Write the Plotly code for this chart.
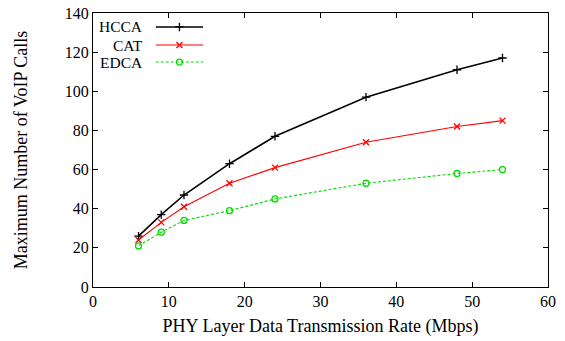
import plotly.graph_objects as go

rates = [6, 9, 12, 18, 24, 36, 48, 54]
hcca = [26, 37, 47, 63, 77, 97, 111, 117]
cat = [24, 33, 41, 53, 61, 74, 82, 85]
edca = [21, 28, 34, 39, 45, 53, 58, 60]

series = [
    ("HCCA", hcca, "black", "solid", "cross-thin-open", 6, 1.6),
    ("CAT", cat, "#ff0000", "solid", "x-thin-open", 6, 1.1),
    ("EDCA", edca, "#00dd00", "3px,2px", "circle-open", 6, 1.1),
]

fig = go.Figure()
for name, ys, col, dash, sym, ms, lw in series:
    fig.add_trace(go.Scatter(
        x=rates, y=ys, mode="lines+markers", name=name,
        line=dict(color=col, width=lw, dash=dash),
        marker=dict(symbol=sym, size=ms, color=col, line=dict(color=col, width=1.3)),
        showlegend=False))

# custom legend (text left of sample)
leg_y = [0.949, 0.883, 0.821]
for (name, ys, col, dash, sym, ms, lw), ly in zip(series, leg_y):
    fig.add_trace(go.Scatter(
        x=[0.138, 0.190, 0.242], y=[ly, ly, ly], xaxis="x2", yaxis="y2",
        mode="lines", line=dict(color=col, width=lw, dash=dash),
        showlegend=False, hoverinfo="skip"))
    fig.add_trace(go.Scatter(
        x=[0.190], y=[ly], xaxis="x2", yaxis="y2", mode="markers",
        marker=dict(symbol=sym, size=ms, color=col, line=dict(color=col, width=1.3)),
        showlegend=False, hoverinfo="skip"))
    fig.add_annotation(x=0.112, y=ly, xref="paper", yref="paper", text=name,
                       showarrow=False, xanchor="right", yanchor="middle",
                       borderpad=0, font=dict(size=15.5, color="black"))

font = "Liberation Serif, Times New Roman, serif"
axcommon = dict(showgrid=False, zeroline=False, showline=True, linecolor="black",
                linewidth=1, mirror="ticks", ticks="inside", ticklen=5,
                tickcolor="black", tickfont=dict(size=16, color="black"))
fig.update_layout(
    width=565, height=341,
    margin=dict(l=93, r=17, t=13, b=54, autoexpand=False),
    paper_bgcolor="white", plot_bgcolor="white",
    font=dict(family=font, color="black", size=16),
    xaxis=dict(range=[0, 60], dtick=10,
               title=dict(text="PHY Layer Data Transmission Rate (Mbps)", font=dict(size=18), standoff=10),
               **axcommon),
    yaxis=dict(range=[0, 140], dtick=20,
               title=dict(text="Maximum Number of VoIP Calls", font=dict(size=18), standoff=32),
               **axcommon),
    xaxis2=dict(overlaying="x", range=[0, 1], visible=False),
    yaxis2=dict(overlaying="y", range=[0, 1], visible=False),
    showlegend=False,
)
fig.write_html("out.html", config={"displayModeBar": False},
               post_script="document.body.style.margin='0';document.body.style.padding='0';")
